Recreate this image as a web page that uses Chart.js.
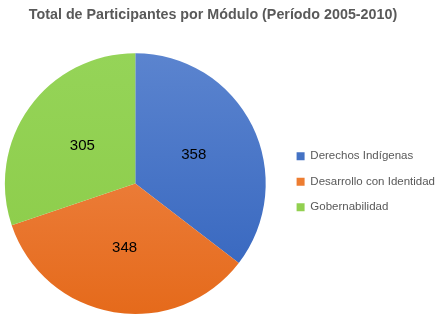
<!DOCTYPE html>
<html>
<head>
<meta charset="utf-8">
<script src="https://cdn.jsdelivr.net/npm/chart.js@4"></script>
<style>
  html, body { margin: 0; padding: 0; background: #fff; }
  #wrap { width: 439px; height: 318px; }
</style>
</head>
<body>
<div id="wrap"><canvas id="myChart" width="439" height="318"></canvas></div>
<script>
'use strict'

const modulos = ['Derechos Indígenas', 'Desarrollo con Identidad', 'Gobernabilidad'];
const participantes = [358, 348, 305];
const tituloGrafico = 'Total de Participantes por Módulo (Período 2005-2010)';

// top / bottom colours of each slice gradient
const coloresArriba = ['#5b84cf', '#f18c52', '#95d458'];
const coloresAbajo = ['#3263bd', '#e56a1b', '#8bcb47'];
const coloresLeyenda = ['#4472c4', '#ed7d31', '#92d050'];

const ctx = document.getElementById('myChart');

function sliceGradient(context){
    const chart = context.chart;
    const area = chart.chartArea;
    const i = context.dataIndex;
    if(!area) return coloresLeyenda[i];
    const g = chart.ctx.createLinearGradient(0, area.top, 0, area.bottom);
    g.addColorStop(0, coloresArriba[i]);
    g.addColorStop(1, coloresAbajo[i]);
    return g;
}

// nudge the pie a bit to the left, the way the original sits
const shiftPie = {
    id: 'shiftPie',
    afterLayout(chart){
        chart.chartArea.left -= 12;
        chart.chartArea.width = chart.chartArea.right - chart.chartArea.left;
    }
};

// draw the value inside each slice
const valueLabels = {
    id: 'valueLabels',
    afterDatasetsDraw(chart){
        const c = chart.ctx;
        const meta = chart.getDatasetMeta(0);
        c.save();
        c.font = '15px "Liberation Sans", Arial, sans-serif';
        c.fillStyle = '#000';
        c.textAlign = 'center';
        c.textBaseline = 'middle';
        meta.data.forEach((arc, i) => {
            const p = arc.tooltipPosition();
            c.fillText(String(chart.data.datasets[0].data[i]), p.x, p.y);
        });
        c.restore();
    }
};

new Chart(ctx, {
    type: 'pie',
    data: {
        labels: modulos,
        datasets: [{
            data: participantes,
            backgroundColor: sliceGradient,
            borderWidth: 0
        }]
    },
    options: {
        responsive: false,
        animation: false,
        layout: { padding: { left: -19, right: -6, top: 4, bottom: 4 } },
        plugins: {
            title: {
                display: true,
                text: tituloGrafico,
                color: '#595959',
                font: { family: '"Liberation Sans", Arial, sans-serif', size: 14.3, weight: 'bold' },
                padding: { top: 2, bottom: 30 }
            },
            legend: {
                position: 'right',
                title: { display: true, text: ' ', padding: 15.5, font: { size: 12 } },
                labels: {
                    boxWidth: 8,
                    boxHeight: 8,
                    padding: 14,
                    color: '#595959',
                    font: { family: '"Liberation Sans", Arial, sans-serif', size: 11.5 },
                    generateLabels(chart){
                        return modulos.map((m, i) => ({
                            text: m,
                            fillStyle: coloresLeyenda[i],
                            strokeStyle: coloresLeyenda[i],
                            lineWidth: 0,
                            fontColor: '#595959',
                            index: i
                        }));
                    }
                }
            },
            tooltip: { enabled: false }
        }
    },
    plugins: [shiftPie, valueLabels]
});
</script>
</body>
</html>
